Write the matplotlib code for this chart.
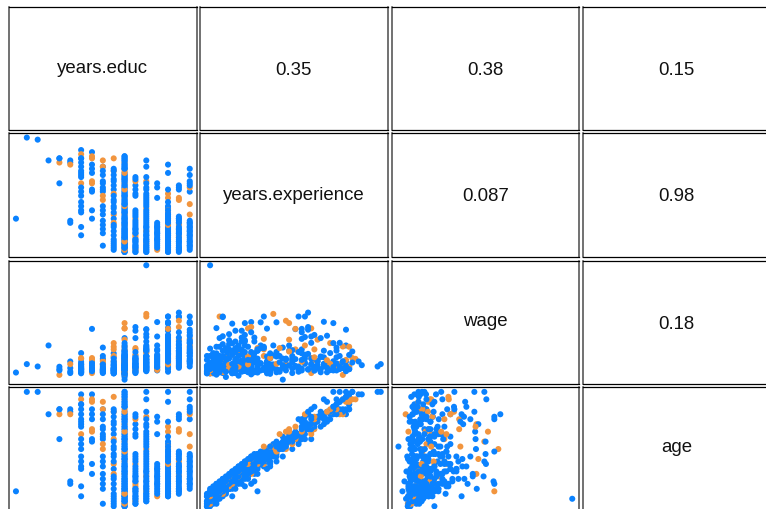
import numpy as np
import matplotlib
matplotlib.use("Agg")
import matplotlib.pyplot as plt
from matplotlib.textpath import TextPath
from matplotlib.font_manager import FontProperties

plt.rcParams['font.family'] = ['Liberation Sans', 'DejaVu Sans']

# Survey sample: years of schooling, work experience, hourly wage, age, union membership.
# Records are grouped by years of schooling; each level's later lines continue the first.
educ_levels = [2, 3, 4, 5, 6, 7, 8, 9, 10, 11, 12, 13, 14, 15, 16, 17, 18]

exper = [
    [16],
    [55],
    [54],
    [44],
    [45, 43, 33, 45],
    [44, 43, 42, 15, 14],
    [49, 47, 45, 43, 41, 39, 37, 36, 33, 29, 27, 22, 20, 19, 8,
     12, 24, 31, 38, 45],
    [48, 46, 45, 42, 38, 34, 33, 30, 29, 16,
     20, 40],
    [44, 41, 41, 37, 34, 33, 30, 29, 27, 25, 20, 18, 15, 13, 9,
     3, 11, 22, 31, 39],
    [45, 39, 39, 37, 34, 32, 30, 28, 25, 24, 21, 18, 16, 14, 13, 12, 8, 5, 3, 2,
     1, 4, 6, 10, 19, 22, 27, 35, 40],
    [26, 33, 13, 4, 35, 40, 43, 45, 0, 24, 46,
     46, 45, 44, 43, 42, 41, 40, 39, 38, 37, 36, 35, 34, 32, 31, 30, 29, 28, 27, 27,
     25, 23, 22, 21, 20, 19, 18, 17, 16, 15, 14, 14, 12, 11, 10, 10, 9, 8, 8, 7,
     6, 6, 5, 4, 3, 3, 2, 2, 1, 1, 0, 7, 17, 31, 24,
     0, 1, 2, 3, 4, 5, 6, 7, 8, 9, 10, 11, 12, 13, 14, 15, 16, 18, 19, 20, 21, 22, 23,
     25, 26, 28, 29, 30, 32, 33, 34, 36, 37, 38, 40, 41, 42, 44,
     2, 4, 5, 7, 9, 11, 13, 16, 19, 23, 27, 35],
    [32, 11, 36, 34, 30, 28, 27, 19, 18, 16, 15, 14, 12, 10, 9, 8, 7, 6, 5, 4, 3, 2, 1, 0,
     0, 1, 2, 3, 5, 6, 9, 11, 13, 17, 20, 35],
    [1, 4, 21, 44, 28, 31, 7, 41, 34, 33, 26, 25, 24, 22, 20, 19, 17, 16, 15, 13, 12,
     11, 10, 9, 8, 6, 5, 3, 2, 0, 1,
     0, 2, 3, 4, 5, 6, 8, 10, 12, 14, 18, 23, 27, 30, 36],
    [33, 31, 26, 14, 13, 12, 11, 10, 9, 8, 7, 6, 5, 4, 1,
     2, 3, 6, 9, 12],
    [5, 17, 22, 19, 18, 8, 9, 3, 38, 42, 28, 26, 21, 20, 16, 15, 14, 13, 12, 11, 10,
     9, 8, 7, 6, 5, 4, 3, 2, 2, 1, 0, 1,
     0, 1, 2, 3, 4, 5, 6, 7, 8, 9, 10, 11, 12, 13, 14, 16, 18, 20, 24, 30],
    [32, 31, 5, 25, 14, 26, 17, 16, 15, 13, 12, 11, 10, 9, 8, 7, 6, 4, 3, 2, 1,
     0, 2, 5, 7, 9, 11, 14, 16, 30, 1],
    [29, 37, 40, 12, 34, 33, 31, 23, 18, 15, 14, 13, 11, 10, 9, 8, 7, 6, 5, 4, 3, 2,
     1, 3, 5, 8, 10, 12, 14, 32],
]

wage = [
    [3.7],
    [6.9],
    [6.0],
    [14.0],
    [5.9, 2.8, 4.5, 5.0],
    [7.9, 5.4, 6.9, 4.1, 3.5],
    [6.5, 8.9, 5.5, 7.7, 4.5, 11.1, 6.0, 5.0, 9.2, 4.0, 5.2, 3.8, 4.8, 6.8, 3.4,
     4.3, 5.8, 7.0, 3.8, 5.0],
    [7.9, 9.2, 6.0, 5.0, 6.5, 8.5, 3.5, 20.3, 4.7, 4.2,
     5.5, 7.2],
    [8.5, 13.2, 6.5, 7.0, 5.5, 9.0, 4.5, 6.0, 8.0, 7.0, 4.0, 5.0, 3.8, 4.5, 3.5,
     4.0, 6.8, 5.0, 10.0, 4.6],
    [13.5, 14.9, 7.0, 9.5, 6.0, 5.0, 11.0, 12.5, 4.5, 6.5, 5.5, 10.0, 4.0, 8.0, 3.8,
     5.0, 4.2, 3.5, 4.5, 3.4,
     3.35, 4.8, 5.5, 6.5, 7.5, 4.4, 9.0, 5.2, 8.0],
    [22.5, 20.5, 20.5, 16.8, 16.2, 14.9, 13.6, 10.4, 10.0, 1.0, 11.7,
     7.5, 5.0, 4.2, 8.0, 6.0, 9.5, 4.5, 7.0, 5.5, 12.0, 3.8, 6.5, 9.0, 4.8, 7.5, 5.2,
     11.5, 6.2, 3.5, 8.5, 5.8, 4.0, 9.8, 6.8, 3.2, 5.0, 12.5, 7.2, 4.5, 8.8, 3.0, 6.0,
     5.5, 4.0, 7.5, 2.5, 9.0, 5.0, 3.5, 6.5, 4.2, 2.0, 7.8, 3.8, 5.2, 2.9, 4.5, 6.8,
     3.35, 5.5, 4.0, 11.0, 14.0, 10.5, 13.2,
     3.35, 4.2, 3.8, 6.0, 5.0, 4.4, 7.0, 4.8, 6.3, 3.6, 5.6, 8.2, 4.3, 7.0, 5.2, 9.5,
     6.2, 4.7, 8.0, 5.4, 10.2, 7.0, 4.6, 9.0, 6.4, 8.8, 5.0, 7.8, 10.8, 6.6, 4.4, 9.6,
     6.8, 8.4, 5.8, 7.2, 10.0, 6.1,
     5.8, 8.6, 3.9, 5.3, 6.9, 4.6, 8.3, 5.7, 3.4, 7.6, 12.2, 8.0],
    [21.0, 19.6, 16.8, 12.5, 8.5, 6.0, 10.0, 7.0, 5.5, 13.0, 4.5, 9.0, 6.5, 5.0, 8.0,
     10.5, 5.4, 7.5, 6.0, 3.8, 9.5, 5.5, 4.5, 6.2,
     3.5, 5.8, 7.0, 4.5, 8.8, 4.0, 6.8, 11.5, 5.5, 7.2, 9.0, 8.0],
    [44.5, 25.0, 26.0, 20.0, 20.2, 17.2, 18.3, 12.0, 9.5, 7.0, 14.0, 8.5, 5.5, 11.5,
     6.8, 9.8, 4.5, 12.5, 7.5, 5.8, 15.5, 8.0, 11.1, 4.8, 6.5, 13.0, 5.0, 8.8, 6.0,
     4.5, 7.2,
     5.5, 7.8, 4.2, 10.0, 6.3, 8.5, 12.0, 5.2, 9.0, 6.0, 13.5, 10.0, 7.5, 12.5, 9.8],
    [17.4, 9.0, 12.0, 22.9, 7.5, 5.5, 10.5, 6.5, 8.5, 4.5, 12.5, 7.0, 5.0, 9.5, 4.7,
     6.0, 8.0, 10.0, 5.8, 14.0],
    [25.0, 22.8, 22.8, 20.4, 25.0, 22.3, 19.6, 20.6, 17.7, 15.0, 20.3, 11.7, 14.0,
     9.2, 12.0, 17.0, 8.5, 13.5, 10.0, 15.5, 6.0, 11.5, 6.2, 14.5, 9.0, 12.0, 7.5,
     10.5, 5.5, 8.0, 6.8, 4.0, 12.8,
     8.5, 5.0, 11.0, 6.5, 13.5, 9.5, 7.0, 16.0, 10.5, 5.5, 12.5, 8.0, 18.0, 6.8, 10.8,
     7.8, 13.0, 11.0, 9.0, 16.5],
    [26.5, 25.0, 24.8, 23.4, 21.0, 16.2, 13.0, 9.0, 15.5, 9.8, 11.5, 7.5, 14.0, 6.0,
     10.5, 6.6, 12.0, 8.0, 5.5, 9.5, 7.0,
     6.2, 11.0, 14.5, 9.0, 13.0, 17.0, 8.4, 12.0, 19.0, 10.0],
    [25.0, 23.0, 22.5, 22.5, 18.0, 15.0, 14.0, 13.0, 16.5, 11.0, 19.0, 8.5, 12.5,
     10.0, 15.5, 7.0, 12.0, 9.0, 17.5, 6.0, 11.0, 8.0,
     7.5, 13.5, 10.0, 14.8, 8.0, 16.0, 11.5, 20.0],
]

age = [
    [24],
    [64],
    [64],
    [55],
    [57, 55, 45, 57],
    [57, 56, 55, 28, 27],
    [63, 61, 59, 57, 55, 53, 51, 50, 47, 43, 41, 36, 34, 33, 22,
     26, 38, 45, 52, 59],
    [63, 61, 60, 57, 53, 49, 48, 45, 44, 31,
     35, 55],
    [60, 57, 57, 53, 50, 49, 46, 45, 43, 41, 36, 34, 31, 29, 25,
     19, 27, 38, 47, 55],
    [62, 56, 56, 54, 51, 49, 47, 45, 42, 41, 38, 35, 33, 31, 30, 29, 25, 22, 20, 19,
     18, 21, 23, 27, 36, 39, 44, 52, 57],
    [44, 51, 31, 22, 53, 58, 61, 63, 18, 42, 64,
     64, 63, 62, 61, 60, 59, 58, 57, 56, 55, 54, 53, 52, 50, 49, 48, 47, 46, 45, 45,
     43, 41, 40, 39, 38, 37, 36, 35, 34, 33, 32, 32, 30, 29, 28, 28, 27, 26, 26, 25,
     24, 24, 23, 22, 21, 21, 20, 20, 19, 19, 18, 25, 35, 49, 42,
     18, 19, 20, 21, 22, 23, 24, 25, 26, 27, 28, 29, 30, 31, 32, 33, 34, 36, 37, 38, 39,
     40, 41, 43, 44, 46, 47, 48, 50, 51, 52, 54, 55, 56, 58, 59, 60, 62,
     20, 22, 23, 25, 27, 29, 31, 34, 37, 41, 45, 53],
    [51, 30, 55, 53, 49, 47, 46, 38, 37, 35, 34, 33, 31, 29, 28, 27, 26, 25, 24, 23,
     22, 21, 20, 19,
     19, 20, 21, 22, 24, 25, 28, 30, 32, 36, 39, 54],
    [21, 24, 41, 64, 48, 51, 27, 61, 54, 53, 46, 45, 44, 42, 40, 39, 37, 36, 35, 33,
     32, 31, 30, 29, 28, 26, 25, 23, 22, 20, 21,
     20, 22, 23, 24, 25, 26, 28, 30, 32, 34, 38, 43, 47, 50, 56],
    [54, 52, 47, 35, 34, 33, 32, 31, 30, 29, 28, 27, 26, 25, 22,
     23, 24, 27, 30, 33],
    [27, 39, 44, 41, 40, 30, 31, 25, 60, 64, 50, 48, 43, 42, 38, 37, 36, 35, 34, 33,
     32, 31, 30, 29, 28, 27, 26, 25, 24, 24, 23, 22, 23,
     22, 23, 24, 25, 26, 27, 28, 29, 30, 31, 32, 33, 34, 35, 36, 38, 40, 42, 46, 52],
    [55, 54, 28, 48, 37, 49, 40, 39, 38, 36, 35, 34, 33, 32, 31, 30, 29, 27, 26, 25, 24,
     23, 25, 28, 30, 32, 34, 37, 39, 53, 24],
    [53, 61, 64, 36, 58, 57, 55, 47, 42, 39, 38, 37, 35, 34, 33, 32, 31, 30, 29, 28,
     27, 26,
     25, 27, 29, 32, 34, 36, 38, 56],
]

union = [
    [0],
    [0],
    [0],
    [0],
    [0, 1, 0, 0],
    [0, 0, 1, 0, 0],
    [0, 1, 0, 0, 0, 0, 0, 0, 1, 0, 0, 0, 0, 0, 0,
     0, 0, 0, 0, 0],
    [0, 1, 1, 0, 0, 1, 1, 0, 0, 0,
     0, 0],
    [1, 0, 1, 0, 0, 0, 0, 0, 1, 1, 0, 0, 0, 0, 0,
     0, 0, 0, 0, 0],
    [1, 1, 0, 0, 0, 0, 0, 1, 0, 0, 0, 1, 0, 1, 0, 0, 0, 0, 0, 0,
     0, 0, 0, 0, 0, 0, 0, 0, 0],
    [1, 1, 1, 0, 1, 0, 1, 0, 0, 0, 0,
     0, 0, 0, 0, 0, 0, 0, 1, 0, 0, 0, 0, 0, 0, 0, 0, 0, 0, 0, 0,
     0, 0, 0, 0, 0, 0, 1, 0, 0, 0, 0, 0, 0, 0, 0, 0, 0, 0, 0, 0,
     0, 0, 1, 0, 0, 0, 0, 0, 1, 0, 0, 0, 0, 0, 0,
     0, 1, 0, 0, 0, 0, 0, 0, 0, 0, 0, 0, 0, 0, 0, 0, 0, 0, 0, 0, 0, 1, 0,
     0, 0, 0, 0, 1, 0, 0, 0, 0, 0, 1, 0, 0, 0, 0,
     0, 0, 1, 0, 0, 0, 0, 0, 0, 0, 0, 0],
    [0, 0, 0, 1, 0, 0, 0, 0, 0, 1, 0, 0, 0, 0, 0, 1, 1, 0, 0, 0, 0, 0, 1, 0,
     0, 0, 0, 0, 0, 0, 0, 0, 0, 0, 0, 0],
    [0, 1, 1, 0, 0, 0, 0, 0, 1, 0, 0, 0, 0, 0, 0, 0, 0, 0, 0, 0, 0,
     0, 1, 0, 0, 0, 0, 0, 0, 0, 0,
     0, 0, 0, 0, 0, 0, 0, 0, 0, 0, 0, 0, 0, 0, 0],
    [0, 0, 0, 0, 0, 0, 0, 0, 0, 0, 0, 0, 0, 0, 1,
     0, 0, 0, 0, 0],
    [0, 0, 0, 0, 0, 0, 0, 0, 0, 0, 1, 1, 0, 1, 0, 0, 0, 0, 0, 0, 1,
     0, 0, 0, 1, 0, 0, 0, 0, 0, 0, 0, 0,
     0, 0, 0, 0, 0, 0, 0, 0, 0, 0, 0, 0, 0, 1, 0, 0, 0, 0, 0, 0],
    [0, 0, 0, 1, 1, 1, 0, 0, 0, 1, 0, 0, 0, 0, 0, 1, 0, 0, 0, 0, 0,
     0, 0, 0, 0, 0, 0, 0, 0, 0, 0],
    [0, 0, 0, 0, 0, 0, 1, 1, 1, 0, 0, 0, 0, 0, 0, 0, 0, 0, 0, 0, 0, 0,
     0, 0, 0, 0, 0, 0, 0, 0],
]

var_names = ["years.educ", "years.experience", "wage", "age"]
# absolute Pearson correlations printed in the upper panels
cor_labels = {(0, 1): "0.35", (0, 2): "0.38", (0, 3): "0.15",
              (1, 2): "0.087", (1, 3): "0.98", (2, 3): "0.18"}

BLUE = "#0a82ff"
ORANGE = "#f2953e"
FONT_SIZE = 13.4
font = FontProperties(family="Liberation Sans", size=FONT_SIZE)

educ_flat = np.concatenate([[e] * len(x) for e, x in zip(educ_levels, exper)])
cols = [educ_flat.astype(float),
        np.concatenate(exper).astype(float),
        np.concatenate(wage).astype(float),
        np.concatenate(age).astype(float)]
grp = np.concatenate(union)
colors = np.where(grp == 1, ORANGE, BLUE)


def padded(v):
    lo, hi = float(np.min(v)), float(np.max(v))
    d = (hi - lo) * 0.04
    return lo - d, hi + d


W, H = 766, 509
DPI = 100
fig = plt.figure(figsize=(W / DPI, H / DPI), dpi=DPI)

col_left = [9, 200, 391.5, 582.8]
col_w = 187.7
row_top = [6.7, 133, 260.7, 387.3]
row_h = 123.5


def centred_label(ax, label):
    # centre the inked glyph box (not the line box) in the panel
    ext = TextPath((0, 0), label, size=FONT_SIZE, prop=font).get_extents()
    mid_px = (ext.y0 + ext.y1) / 2 * DPI / 72
    ax.text(0.5, 0.5 - mid_px / row_h, label, ha="center", va="baseline",
            fontproperties=font, color="#111111")


for i in range(4):
    for j in range(4):
        ax = fig.add_axes([col_left[j] / W, 1 - (row_top[i] + row_h) / H,
                           col_w / W, row_h / H])
        ax.set_xticks([])
        ax.set_yticks([])
        for side, sp in ax.spines.items():
            if side in ("left", "right"):
                sp.set_linewidth(1.1)
                sp.set_color("#4a4a4a")
            else:
                sp.set_linewidth(0.9)
                sp.set_color("black")
        if i <= j:
            ax.set_xlim(0, 1)
            ax.set_ylim(0, 1)
            centred_label(ax, var_names[i] if i == j else cor_labels[(i, j)])
        else:
            ax.scatter(cols[j], cols[i], s=19, c=colors, linewidths=0)
            ax.set_xlim(*padded(cols[j]))
            ax.set_ylim(*padded(cols[i]))

fig.savefig("out.png", dpi=DPI)
